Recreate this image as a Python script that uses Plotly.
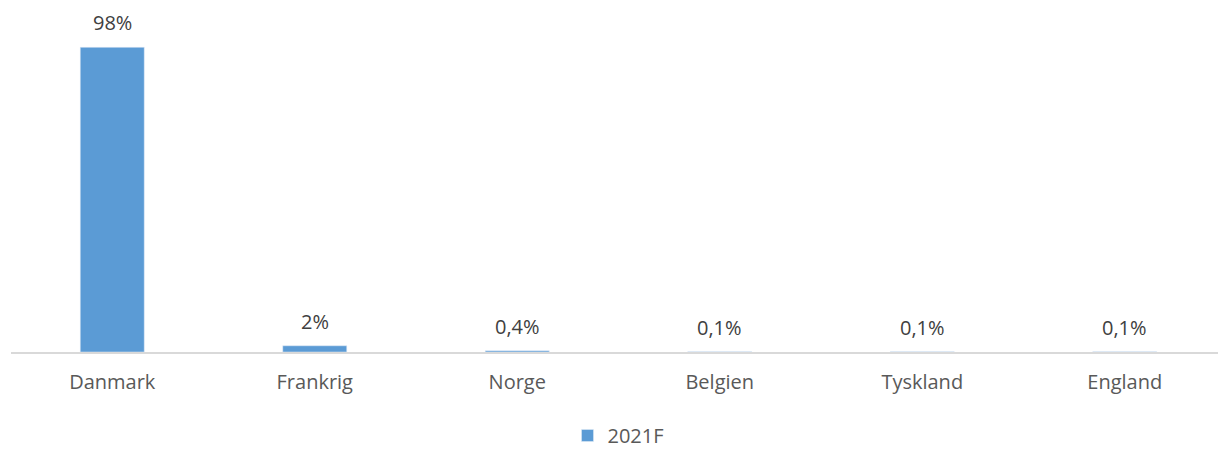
import plotly.graph_objs as go

# Data
countries = ['Danmark', 'Frankrig', 'Norge', 'Belgien', 'Tyskland', 'England']
shares = [98, 2, 0.4, 0.1, 0.1, 0.1]
share_labels = ['98%', '2%', '0,4%', '0,1%', '0,1%', '0,1%']
series_name = '2021F'

BAR_COLOR = '#5b9bd5'
FONT = 'Open Sans, sans-serif'

fig = go.Figure()
fig.add_trace(go.Bar(
    x=countries,
    y=shares,
    name=series_name,
    marker=dict(color=BAR_COLOR),
    showlegend=True,
))

# value labels above each bar
for c, v, t in zip(countries, shares, share_labels):
    fig.add_annotation(
        x=c, y=v, text=t, showarrow=False,
        yanchor='bottom', yshift=9,
        font=dict(family=FONT, size=20, color='#404040'),
    )

# page body has an 8px margin, so the figure is a bit smaller than the window
fig.update_layout(
    width=1218,
    height=447,
    margin=dict(l=3, r=0, t=2, b=94),
    plot_bgcolor='white',
    paper_bgcolor='white',
    bargap=0.684,
    font=dict(family=FONT, size=20, color='#595959'),
    legend=dict(
        orientation='h', x=0.5, xanchor='center', y=-0.245, yanchor='middle',
        font=dict(family=FONT, size=20, color='#595959'),
        itemwidth=30,
    ),
    xaxis=dict(
        showline=True, linecolor='#d9d9d9', linewidth=2,
        ticks='', ticklabelstandoff=11, automargin=False,
        tickfont=dict(family=FONT, size=20, color='#595959'),
    ),
    yaxis=dict(
        range=[0, 110], visible=False, showgrid=False, zeroline=False,
    ),
)

fig.write_html("out.html")
